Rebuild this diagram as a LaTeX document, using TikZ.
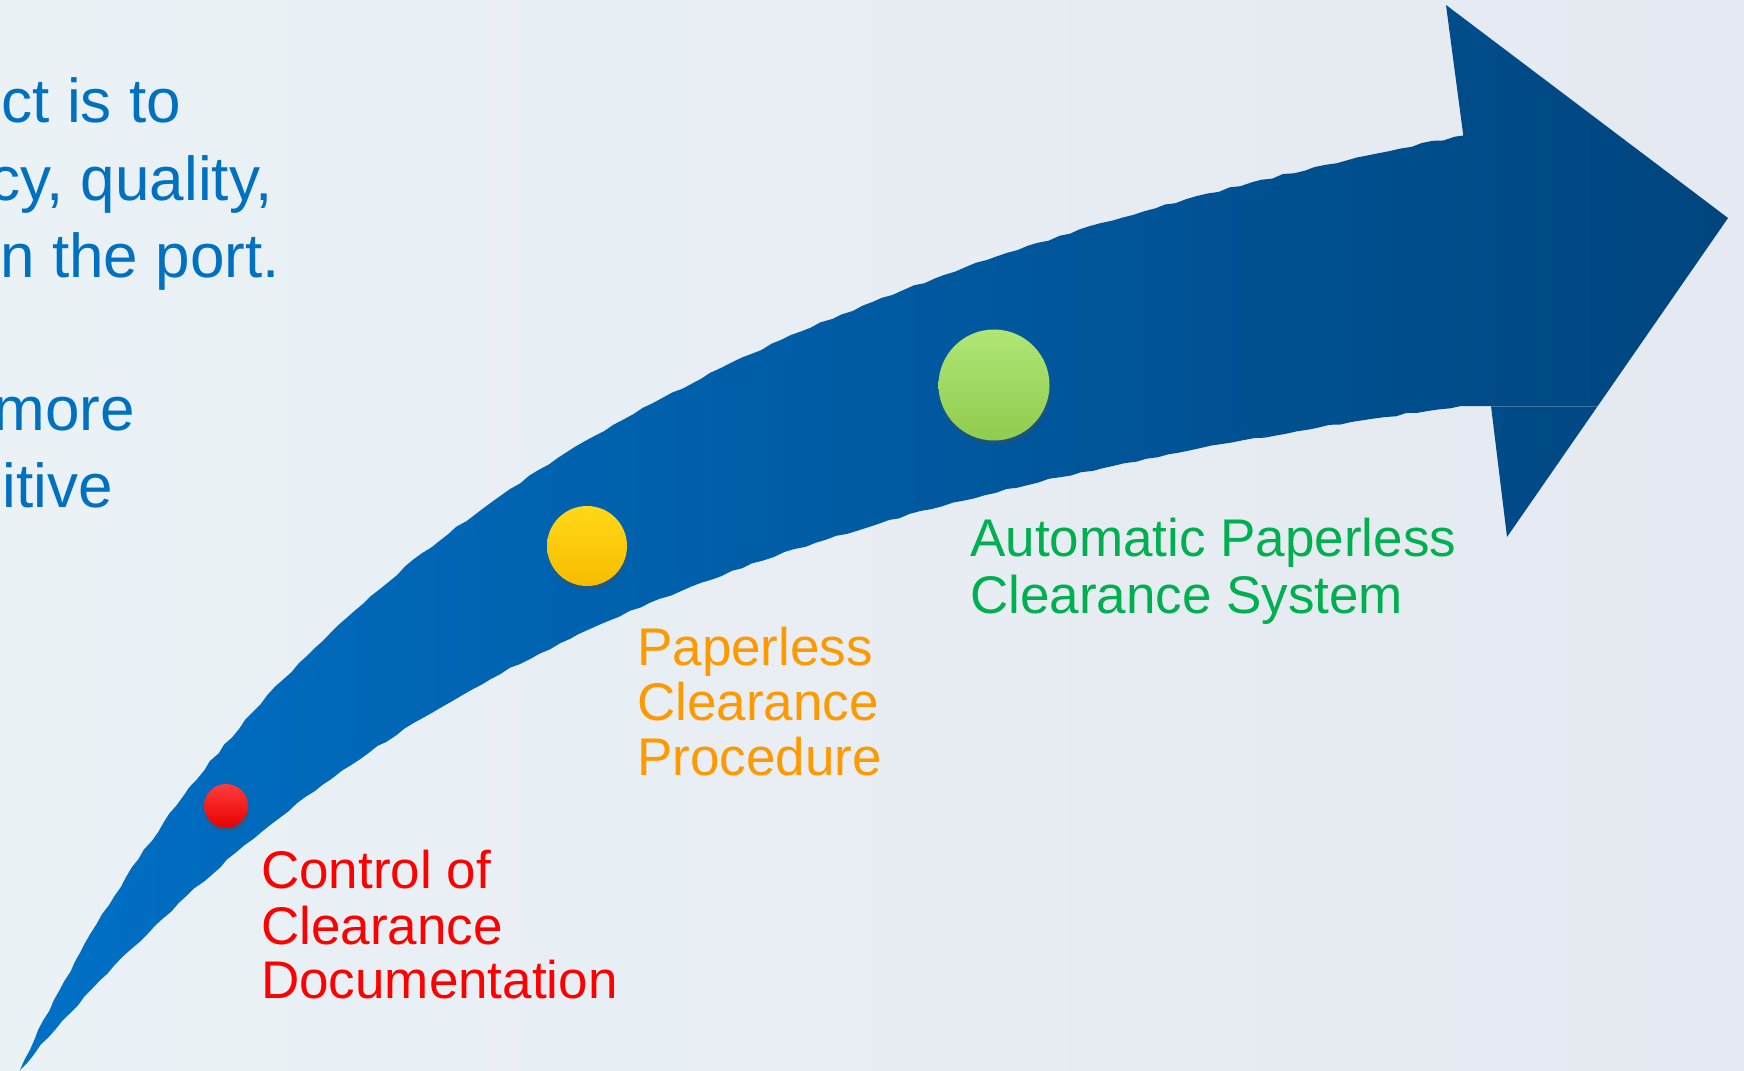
\documentclass[tikz,border=0pt]{standalone}
\usepackage{fontspec}
\setmainfont{Liberation Sans}
\usetikzlibrary{shadows,decorations.pathmorphing}
\definecolor{bgL}{HTML}{EAF2F6}
\definecolor{bgR}{HTML}{E5E9F1}
\definecolor{arrL}{HTML}{0070C6}
\definecolor{arrR}{HTML}{00457E}
\definecolor{txtblue}{HTML}{0070C0}
\definecolor{txtred}{HTML}{FF0000}
\definecolor{txtorange}{HTML}{FF9900}
\definecolor{txtgreen}{HTML}{00B050}
\definecolor{redTop}{HTML}{FF3C3C}
\definecolor{redMid}{HTML}{FF0606}
\definecolor{redBot}{HTML}{E80000}
\definecolor{yelTop}{HTML}{FFD818}
\definecolor{yelMid}{HTML}{FFC600}
\definecolor{yelBot}{HTML}{F8BC00}
\definecolor{grnTop}{HTML}{B0E676}
\definecolor{grnMid}{HTML}{9AD459}
\definecolor{grnBot}{HTML}{90CC4E}
\tikzset{
  ball/.style={circle, inner sep=0pt, draw=none,
    drop shadow={shadow xshift=1pt, shadow yshift=-4pt, opacity=0.35, fill=black!70}},
  bodytext/.style={inner sep=0pt, anchor=base east, text=txtblue,
    font=\fontsize{62}{77}\selectfont},
  steplabel/.style={inner sep=0pt, anchor=base west,
    font=\fontsize{53}{55}\selectfont},
  rough/.style={decoration={random steps, segment length=11pt, amplitude=1pt}},
}
\begin{document}
\begin{tikzpicture}[x=1pt,y=-1pt]
\pgfmathsetseed{7}
\useasboundingbox (0,0) rectangle (1744,1070);
\shade[left color=bgL, right color=bgR] (0,0) rectangle (1744,1070);
\begin{scope}
\clip (0,0) rectangle (1744,1070);
% curved arrow
\shade[left color=arrL, right color=arrR]
  (20,1070) decorate[rough]{ .. controls (256,562) and (688,290) .. (1461,136) }
  -- (1446,5) -- (1728,218) -- (1507,537) -- (1491,406) -- (1461,406)
  decorate[rough]{ .. controls (720,510) and (352,680) .. (20,1070) }
  -- cycle;
\draw[white, opacity=0.25, line width=0.8pt] (1491,406) -- (1598,406);

% left body text (cut at the left edge)
\node[bodytext] (t1) at (181,123) {ct is to};
\node[bodytext] (t2) at (273,200) {cy, quality,};
\node[bodytext] (t3) at (280,277) {n the port.};
\node[bodytext] (t4) at (135,430) {more};
\node[bodytext] (t5) at (113,507) {itive};
\end{scope}

% balls
\node[ball, minimum size=44pt, top color=redTop, middle color=redMid, bottom color=redBot] (redball) at (226,806) {};
\node[ball, minimum size=80pt, top color=yelTop, middle color=yelMid, bottom color=yelBot] (yelball) at (587,546) {};
\node[ball, minimum size=111pt, top color=grnTop, middle color=grnMid, bottom color=grnBot] (grnball) at (994,385) {};

% step labels
\node[steplabel, text=txtred] (r1) at (261,888) {Control of};
\node[steplabel, text=txtred] (r2) at (261,944) {Clearance};
\node[steplabel, text=txtred] (r3) at (261,998) {Documentation};

\node[steplabel, text=txtorange] (o1) at (637,665) {Paperless};
\node[steplabel, text=txtorange] (o2) at (637,720) {Clearance};
\node[steplabel, text=txtorange] (o3) at (637,775) {Procedure};

\node[steplabel, text=txtgreen] (g1) at (970,556) {Automatic Paperless};
\node[steplabel, text=txtgreen] (g2) at (970,613) {Clearance System};
\end{tikzpicture}
\end{document}
